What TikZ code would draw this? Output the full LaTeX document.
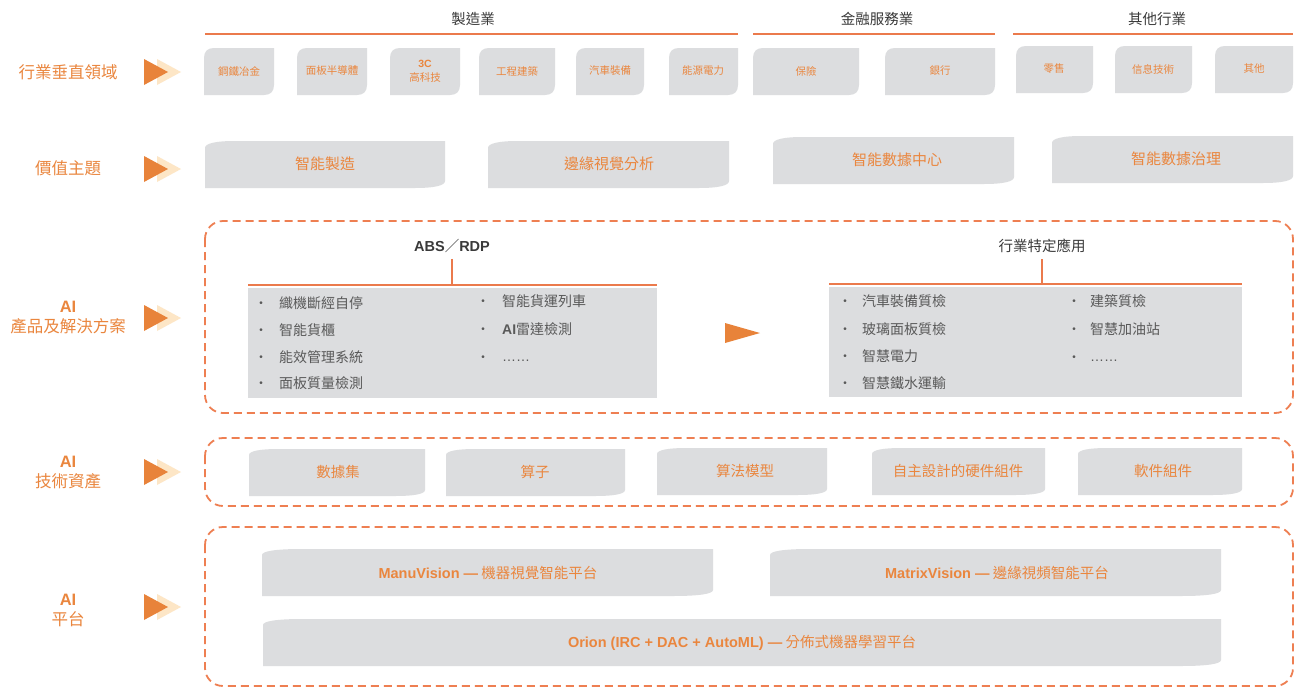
\documentclass[tikz,border=0pt]{standalone}
\usepackage{fontspec}
\setmainfont{Noto Sans CJK TC}
\newfontfamily\lat{Liberation Sans}
\definecolor{oT}{HTML}{EA863E}
\definecolor{oA}{HTML}{E8833A}
\definecolor{oP}{HTML}{FDE6C6}
\definecolor{gF}{HTML}{DCDDDF}
\definecolor{oD}{HTML}{EE7F52}
\definecolor{oL}{HTML}{EB7A4C}
\definecolor{hd}{HTML}{3A3A3A}
\definecolor{bt}{HTML}{595959}
\newcommand\gshape[6]{\fill[gF] (#1,#4) -- (#1,{#2+#6}) .. controls (#1,{#2+0.35*#6}) and ({#1+0.35*#5},#2) .. ({#1+#5},#2) -- (#3,#2) -- (#3,{#4-#6}) .. controls (#3,{#4-0.35*#6}) and ({#3-0.35*#5},#4) .. ({#3-#5},#4) -- cycle;}
\newcommand\rowarrow[1]{\fill[oP] (157,{#1-13}) -- (181,#1) -- (157,{#1+13}) -- cycle;
  \fill[oA] (144,{#1-13}) -- (168,#1) -- (144,{#1+13}) -- cycle;}
\begin{document}
\begin{tikzpicture}[x=1pt,y=-1pt,
  lbl/.style={text=oT, font=\fontsize{16.5}{20}\selectfont, align=center, inner sep=0pt},
  hdr/.style={text=hd, font=\fontsize{14.5}{17}\selectfont, inner sep=0pt},
  sm/.style={text=oT, font=\fontsize{10.5}{14}\selectfont, align=center, inner sep=0pt},
  wd/.style={text=oT, font=\fontsize{15}{18}\selectfont, inner sep=0pt},
  bx/.style={text=oT, font=\fontsize{14.5}{17}\selectfont, inner sep=0pt},
  bl/.style={text=bt, font=\fontsize{14}{16}\selectfont, anchor=west, inner sep=0pt},
  bd/.style={text=bt, font=\lat\fontsize{10}{12}\selectfont, inner sep=0pt},
  ttl/.style={text=hd, font=\fontsize{14.5}{17}\selectfont, inner sep=0pt},
  oline/.style={draw=oL, line width=2.2pt},
  dbox/.style={draw=oD, line width=1.8pt, dash pattern=on 8pt off 5pt, rounded corners=18pt}]
\useasboundingbox (0,0) rectangle (1295,688);
\fill[white] (0,0) rectangle (1295,688);

% headers
\node[hdr] (h1) at (473,19) {製造業};
\node[hdr] (h2) at (877,19) {金融服務業};
\node[hdr] (h3) at (1157,19) {其他行業};
\draw[oline] (205,34) -- (738,34);
\draw[oline] (753,34) -- (995,34);
\draw[oline] (1013,34) -- (1293,34);

% row labels
\node[lbl] (l1) at (68,72) {行業垂直領域};
\node[lbl] (l2) at (68,168) {價值主題};
\node[lbl] (l3) at (68,318) {{\lat\bfseries AI}\\產品及解決方案};
\node[lbl] (l4) at (68,473) {{\lat\bfseries AI}\\技術資產};
\node[lbl] (l5) at (68,610) {{\lat\bfseries AI}\\平台};
\rowarrow{72}
\rowarrow{169}
\rowarrow{318}
\rowarrow{472}
\rowarrow{607}

% row 1
\gshape{204}{48}{274}{95}{10}{10}
\node[sm] (a1) at (239,71) {鋼鐵冶金};
\gshape{297}{48}{367}{95}{10}{10}
\node[sm] (a2) at (332,71) {面板半導體};
\gshape{390}{48}{460}{95}{10}{10}
\node[sm] (a3) at (425,71) {{\lat\bfseries 3C}\\高科技};
\gshape{479}{48}{555}{95}{10}{10}
\node[sm] (a4) at (517,71) {工程建築};
\gshape{576}{48}{644}{95}{10}{10}
\node[sm] (a5) at (610,71) {汽車裝備};
\gshape{669}{48}{738}{95}{10}{10}
\node[sm] (a6) at (703,71) {能源電力};
\gshape{753}{48}{859}{95}{10}{10}
\node[sm] (a7) at (806,71) {保險};
\gshape{885}{48}{995}{95}{10}{10}
\node[sm] (a8) at (940,71) {銀行};
\gshape{1016}{46}{1093}{93}{10}{10}
\node[sm] (a9) at (1054,69) {零售};
\gshape{1115}{46}{1192}{93}{10}{10}
\node[sm] (a10) at (1153,69) {信息技術};
\gshape{1215}{46}{1293}{93}{10}{10}
\node[sm] (a11) at (1254,69) {其他};

% row 2
\gshape{205}{141}{445}{188}{30}{7}
\node[wd] (b1) at (325,164) {智能製造};
\gshape{488}{141}{729}{188}{30}{7}
\node[wd] (b2) at (609,164) {邊緣視覺分析};
\gshape{773}{137}{1014}{184}{30}{7}
\node[wd] (b3) at (897,160) {智能數據中心};
\gshape{1052}{136}{1293}{183}{30}{7}
\node[wd] (b4) at (1176,159) {智能數據治理};

% row 3
\draw[dbox] (205,221) rectangle (1293,413);
\node[ttl] (t1) at (452,246) {{\lat\bfseries ABS}／{\lat\bfseries RDP}};
\coordinate (t1b) at (452,285);
\draw[oline] ([yshift=-6pt]t1.south) -- (t1b);
\fill[gF] (248,288) rectangle (657,398);
\draw[oline] (248,285) -- (657,285);
\node[bd] (p1) at (261,304) {•};
\node[bl] (q1) at (279,303) {織機斷經自停};
\node[bd] (p2) at (261,331) {•};
\node[bl] (q2) at (279,330) {智能貨櫃};
\node[bd] (p3) at (261,358) {•};
\node[bl] (q3) at (279,357) {能效管理系統};
\node[bd] (p4) at (261,384) {•};
\node[bl] (q4) at (279,383) {面板質量檢測};
\node[bd] (p5) at (483,302) {•};
\node[bl] (q5) at (502,301) {智能貨運列車};
\node[bd] (p6) at (483,330) {•};
\node[bl] (q6) at (502,329) {{\lat\bfseries AI}雷達檢測};
\node[bd] (p7) at (483,358) {•};
\node[bl, font=\lat\fontsize{14}{16}\selectfont] (q7) at (502,361) {……};

\node[ttl] (t2) at (1042,246) {行業特定應用};
\coordinate (t2b) at (1042,284);
\draw[oline] ([yshift=-6pt]t2.south) -- (t2b);
\fill[gF] (829,287) rectangle (1242,397);
\draw[oline] (829,284) -- (1242,284);
\node[bd] (r1) at (845,302) {•};
\node[bl] (s1) at (862,301) {汽車裝備質檢};
\node[bd] (r2) at (845,330) {•};
\node[bl] (s2) at (862,329) {玻璃面板質檢};
\node[bd] (r3) at (845,357) {•};
\node[bl] (s3) at (862,356) {智慧電力};
\node[bd] (r4) at (845,384) {•};
\node[bl] (s4) at (862,383) {智慧鐵水運輸};
\node[bd] (r5) at (1074,302) {•};
\node[bl] (s5) at (1090,301) {建築質檢};
\node[bd] (r6) at (1074,330) {•};
\node[bl] (s6) at (1090,329) {智慧加油站};
\node[bd] (r7) at (1074,358) {•};
\node[bl, font=\lat\fontsize{14}{16}\selectfont] (s7) at (1090,361) {……};
\fill[oA] (725,323) -- (760,333) -- (725,343) -- cycle;

% row 4
\draw[dbox] (205,438) rectangle (1293,506);
\gshape{249}{449}{425}{496}{30}{6}
\node[bx] (c1) at (338,472) {數據集};
\gshape{446}{449}{625}{496}{30}{6}
\node[bx] (c2) at (535,472) {算子};
\gshape{657}{448}{827}{495}{30}{6}
\node[bx] (c3) at (745,471) {算法模型};
\gshape{872}{448}{1045}{495}{30}{6}
\node[bx] (c4) at (958,471) {自主設計的硬件組件};
\gshape{1078}{448}{1242}{495}{30}{6}
\node[bx] (c5) at (1163,471) {軟件組件};

% row 5
\draw[dbox] (205,527) rectangle (1293,686);
\gshape{262}{549}{713}{596}{40}{6}
\node[bx] (d1) at (488,573) {{\lat\bfseries ManuVision —} 機器視覺智能平台};
\gshape{770}{549}{1221}{596}{40}{6}
\node[bx] (d2) at (997,573) {{\lat\bfseries MatrixVision —} 邊緣視頻智能平台};
\gshape{263}{619}{1221}{666}{40}{6}
\node[bx] (d3) at (742,643) {{\lat\bfseries Orion (IRC + DAC + AutoML) —} 分佈式機器學習平台};
\end{tikzpicture}
\end{document}
